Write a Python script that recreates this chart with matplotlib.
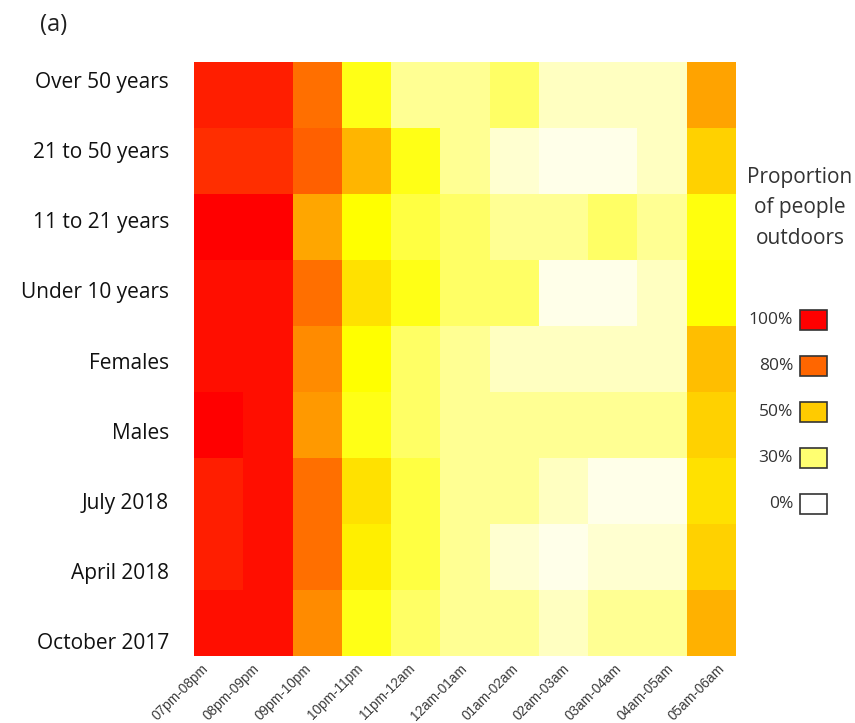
import numpy as np
import matplotlib
matplotlib.use("Agg")
import matplotlib.pyplot as plt
from matplotlib.colors import LinearSegmentedColormap
from matplotlib.patches import Rectangle

# Groups (rows, top to bottom) and hourly bins (columns)
groups = ["Over 50 years", "21 to 50 years", "11 to 21 years", "Under 10 years",
          "Females", "Males", "July 2018", "April 2018", "October 2017"]
hours = ["07pm-08pm", "08pm-09pm", "09pm-10pm", "10pm-11pm", "11pm-12am",
         "12am-01am", "01am-02am", "02am-03am", "03am-04am", "04am-05am",
         "05am-06am"]

# Proportion of people outdoors (%) per group and hour
over_50 = [94, 94, 77, 38, 23, 23, 31, 13, 13, 13, 62]
age_21_50 = [91, 91, 81, 57, 38, 23, 10, 5, 5, 13, 49]
age_11_21 = [100, 100, 61, 40, 34, 31, 23, 23, 31, 23, 39]
under_10 = [97, 97, 77, 46, 38, 31, 31, 5, 5, 13, 40]
females = [97, 97, 69, 40, 31, 23, 13, 13, 13, 13, 54]
males = [100, 97, 65, 38, 31, 23, 23, 23, 23, 23, 49]
july_2018 = [94, 97, 77, 46, 34, 23, 23, 13, 5, 5, 46]
april_2018 = [94, 97, 77, 43, 34, 23, 10, 5, 10, 10, 49]
october_2017 = [97, 97, 69, 38, 31, 23, 23, 13, 23, 23, 58]

legend_levels = [100, 80, 50, 30, 0]

values = np.array([over_50, age_21_50, age_11_21, under_10, females, males,
                   july_2018, april_2018, october_2017], dtype=float)

cmap = LinearSegmentedColormap.from_list(
    "outdoors",
    [(0.0, "#FFFFFF"), (0.3, "#FFFF70"), (0.4, "#FFFF00"),
     (0.5, "#FFCC00"), (0.8, "#FF6600"), (1.0, "#FF0000")])

W, H = 855, 723
fig = plt.figure(figsize=(W / 100, H / 100), dpi=100)
ax = fig.add_axes([194 / W, 1 - 656 / H, (736 - 194) / W, (656 - 62) / H])

nrow, ncol = values.shape
ax.pcolormesh(np.arange(ncol + 1), np.arange(nrow + 1), values,
              cmap=cmap, vmin=0, vmax=100, edgecolors="none")
ax.set_xlim(0, ncol)
ax.set_ylim(nrow, 0)
# labels are spread slightly wider than the cells
ax.set_xticks(np.linspace(0.14, 10.63, ncol))
ax.set_yticks(np.linspace(0.27, 8.78, nrow))
ax.set_xticklabels(hours, rotation=45, ha="right", rotation_mode="anchor",
                   fontsize=9.8, family="Liberation Sans", color="#3a3a3a")
ax.set_yticklabels(groups, fontsize=15, family="Open Sans", color="#111111")
ax.tick_params(axis="y", length=0, pad=18)
ax.tick_params(axis="x", length=0, pad=4)
for s in ax.spines.values():
    s.set_visible(False)

fig.text(40 / W, 1 - 25 / H, "(a)", fontsize=17, family="Open Sans",
         va="center", ha="left", color="#222222")

# Legend panel drawn in pixel coordinates
lax = fig.add_axes([0, 0, 1, 1])
lax.set_xlim(0, W)
lax.set_ylim(H, 0)
lax.axis("off")
lax.text(800, 208, "Proportion\nof people\noutdoors", ha="center", va="center",
         fontsize=15, family="Open Sans", color="#333333", linespacing=1.6)
for i, lv in enumerate(legend_levels):
    yc = 320 + i * 46
    lax.add_patch(Rectangle((800, yc - 10), 27, 20, facecolor=cmap(lv / 100),
                            edgecolor="#333333", linewidth=1.2))
    lax.text(793, yc, f"{lv}%", ha="right", va="center", fontsize=12.5,
             family="Open Sans", color="#333333")

fig.savefig("out.png", dpi=100)
